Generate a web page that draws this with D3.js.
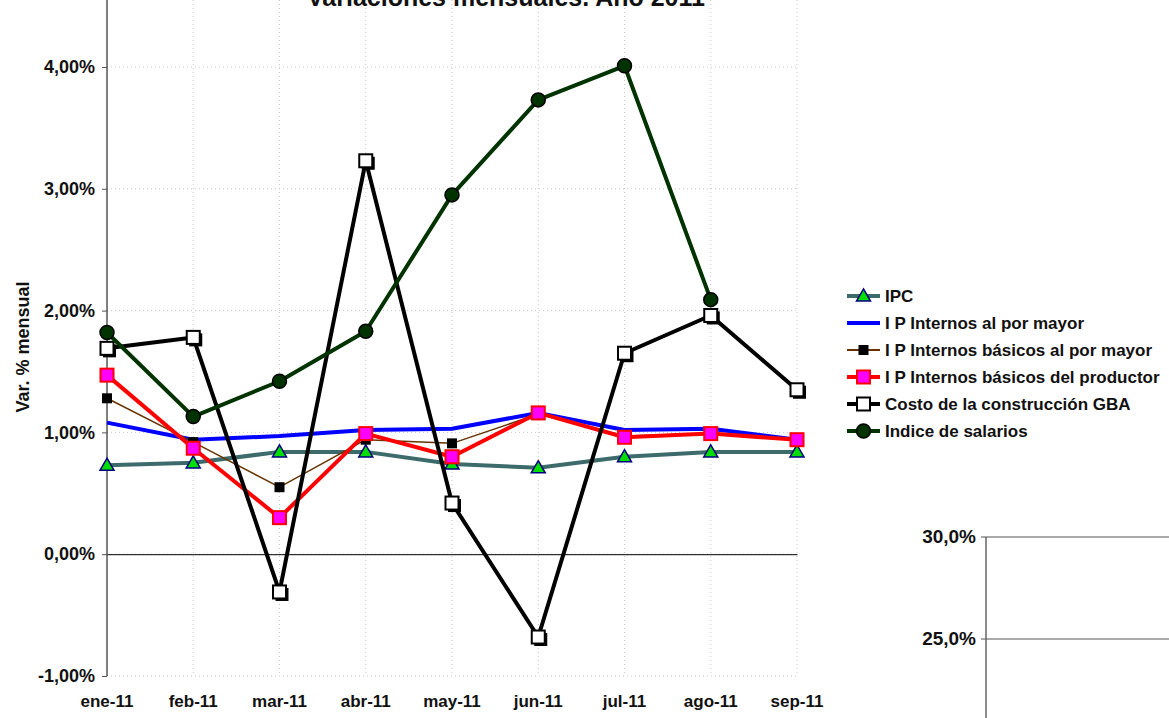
<!DOCTYPE html>
<html>
<head>
<meta charset="utf-8">
<script src="https://cdn.jsdelivr.net/npm/d3@7"></script>
<style>
  body { margin: 0; background: #fff; }
  svg { display: block; }
</style>
</head>
<body>
<svg id="chart" width="1169" height="718"></svg>
<script>
// Categories and series values (Var. % mensual)
const months = ["ene-11", "feb-11", "mar-11", "abr-11", "may-11", "jun-11", "jul-11", "ago-11", "sep-11"];
const ipc = [0.73, 0.75, 0.84, 0.84, 0.74, 0.71, 0.80, 0.84, 0.84];
const ipInternosMayor = [1.08, 0.94, 0.97, 1.02, 1.03, 1.16, 1.02, 1.03, 0.94];
const ipBasicosMayor = [1.28, 0.92, 0.55, 0.94, 0.91, 1.15, 0.97, 0.99, 0.94];
const ipBasicosProductor = [1.47, 0.87, 0.30, 0.99, 0.80, 1.16, 0.96, 0.99, 0.94];
const costoConstruccion = [1.69, 1.78, -0.31, 3.23, 0.42, -0.68, 1.65, 1.96, 1.35];
const indiceSalarios = [1.82, 1.13, 1.42, 1.83, 2.95, 3.73, 4.01, 2.09, null];
const yTicks = [-1, 0, 1, 2, 3, 4];
const seriesNames = ["IPC", "I P Internos al por mayor", "I P Internos básicos al por mayor",
  "I P Internos básicos del productor", "Costo de la construcción GBA", "Indice de salarios"];
// second (cut off) chart at lower right
const secondTicks = [25, 30];

const svg = d3.select("#chart");
const font = "'Liberation Sans', Arial, sans-serif";

const x = d3.scalePoint().domain(months).range([107, 797]);
const y = d3.scaleLinear().domain([-1, 4.55]).range([676, 0]);

const fmt = d => d.toFixed(2).replace(".", ",") + "%";

// Grid
const grid = svg.append("g");
grid.selectAll("line.h").data(yTicks).join("line")
  .attr("x1", 107).attr("x2", 797)
  .attr("y1", d => y(d)).attr("y2", d => y(d))
  .attr("stroke", "#c8c8c8").attr("stroke-width", 1).attr("stroke-dasharray", "1,3");
grid.selectAll("line.v").data(months.slice(1)).join("line")
  .attr("x1", d => x(d)).attr("x2", d => x(d))
  .attr("y1", 0).attr("y2", 676)
  .attr("stroke", "#c8c8c8").attr("stroke-width", 1).attr("stroke-dasharray", "1,3");

// Y axis
const yAxis = svg.append("g")
  .attr("transform", "translate(107,0)")
  .call(d3.axisLeft(y).tickValues(yTicks).tickSize(5).tickFormat(fmt));
yAxis.select(".domain").attr("d", `M0,0V${y(-1)}`).attr("stroke", "#000");
yAxis.selectAll(".tick line").attr("stroke", "#555");
yAxis.selectAll(".tick text")
  .attr("x", -12)
  .attr("font-family", font).attr("font-size", 18).attr("font-weight", "bold").attr("fill", "#111");

// X axis along 0%
const xAxis = svg.append("g")
  .attr("transform", `translate(0,${y(0)})`)
  .call(d3.axisBottom(x).tickSize(0).tickFormat(""));
xAxis.select(".domain").attr("stroke", "#000");

// Category labels at the bottom
svg.append("g").selectAll("text").data(months).join("text")
  .attr("x", d => x(d)).attr("y", 707)
  .attr("text-anchor", "middle")
  .attr("font-family", font).attr("font-size", 17).attr("font-weight", "bold")
  .attr("fill", "#111")
  .text(d => d);

// Y label
svg.append("text")
  .attr("transform", "translate(29,347) rotate(-90)")
  .attr("text-anchor", "middle")
  .attr("font-family", font).attr("font-size", 18).attr("font-weight", "bold")
  .attr("fill", "#111")
  .text("Var. % mensual");

// Title (cut off at top, as in the original)
svg.append("text")
  .attr("x", 506).attr("y", 6)
  .attr("text-anchor", "middle")
  .attr("font-family", font).attr("font-size", 25).attr("font-weight", "bold")
  .attr("fill", "#111")
  .text("Variaciones mensuales. Año 2011");

// Marker drawers
const markers = {
  triangle: (g, cx, cy) => g.append("path")
    .attr("d", d3.symbol().type(d3.symbolTriangle).size(85)())
    .attr("transform", `translate(${cx},${cy + 1})`)
    .attr("fill", "#00dd00").attr("stroke", "#000080").attr("stroke-width", 1.5),
  none: () => {},
  blackSquare: (g, cx, cy) => g.append("rect")
    .attr("x", cx - 5).attr("y", cy - 5).attr("width", 10).attr("height", 10)
    .attr("fill", "#000"),
  pinkSquare: (g, cx, cy) => g.append("rect")
    .attr("x", cx - 6.5).attr("y", cy - 6.5).attr("width", 13).attr("height", 13)
    .attr("fill", "#ff00ff").attr("stroke", "#ff0000").attr("stroke-width", 2),
  whiteSquare: (g, cx, cy, legend) => {
    if (!legend) g.append("rect")
      .attr("x", cx - 4).attr("y", cy - 4).attr("width", 13).attr("height", 13)
      .attr("fill", "#000");
    g.append("rect")
      .attr("x", cx - 6.5).attr("y", cy - 6.5).attr("width", 13).attr("height", 13)
      .attr("fill", "#fff").attr("stroke", "#000").attr("stroke-width", 2);
  },
  circle: (g, cx, cy) => g.append("circle")
    .attr("cx", cx).attr("cy", cy).attr("r", 7)
    .attr("fill", "#003300").attr("stroke", "#000").attr("stroke-width", 1.5)
};

const series = [
  { name: seriesNames[0], values: ipc, color: "#3d6b6b", width: 4, marker: "triangle" },
  { name: seriesNames[1], values: ipInternosMayor, color: "#0000ff", width: 4, marker: "none" },
  { name: seriesNames[2], values: ipBasicosMayor, color: "#663300", width: 1.5, marker: "blackSquare" },
  { name: seriesNames[3], values: ipBasicosProductor, color: "#ff0000", width: 4, marker: "pinkSquare" },
  { name: seriesNames[4], values: costoConstruccion, color: "#000000", width: 4, marker: "whiteSquare" },
  { name: seriesNames[5], values: indiceSalarios, color: "#003300", width: 4, marker: "circle" }
];

const line = d3.line()
  .defined(d => d.v !== null)
  .x(d => x(d.m))
  .y(d => y(d.v));

series.forEach(s => {
  const pts = months.map((m, i) => ({ m, v: s.values[i] }));
  const g = svg.append("g");
  g.append("path")
    .attr("d", line(pts))
    .attr("fill", "none")
    .attr("stroke", s.color)
    .attr("stroke-width", s.width)
    .attr("stroke-linejoin", "round");
  pts.filter(p => p.v !== null).forEach(p => markers[s.marker](g, x(p.m), y(p.v), false));
});

// Legend
const legend = svg.append("g");
series.forEach((s, i) => {
  const ly = 296 + i * 27;
  const g = legend.append("g");
  g.append("line")
    .attr("x1", 847).attr("x2", 880).attr("y1", ly).attr("y2", ly)
    .attr("stroke", s.color).attr("stroke-width", s.width === 4 ? 4 : 2);
  markers[s.marker](g, 863.5, ly, true);
  g.append("text")
    .attr("x", 885).attr("y", ly + 6)
    .attr("font-family", font).attr("font-size", 17).attr("font-weight", "bold")
    .attr("fill", "#111")
    .text(s.name);
});

// Second chart (partially visible)
const y2 = d3.scaleLinear().domain([25, 30]).range([639, 537]);
const g2 = svg.append("g");
g2.selectAll("line.h2").data(secondTicks).join("line")
  .attr("x1", 981).attr("x2", 1169)
  .attr("y1", d => y2(d)).attr("y2", d => y2(d))
  .attr("stroke", "#555").attr("stroke-width", 1);
g2.append("line")
  .attr("x1", 986).attr("x2", 986).attr("y1", y2(30)).attr("y2", 718)
  .attr("stroke", "#666").attr("stroke-width", 1.5);
g2.selectAll("text").data(secondTicks).join("text")
  .attr("x", 976).attr("y", d => y2(d) + 6)
  .attr("text-anchor", "end")
  .attr("font-family", font).attr("font-size", 19).attr("font-weight", "bold")
  .attr("fill", "#111")
  .text(d => d.toFixed(1).replace(".", ",") + "%");
</script>
</body>
</html>
